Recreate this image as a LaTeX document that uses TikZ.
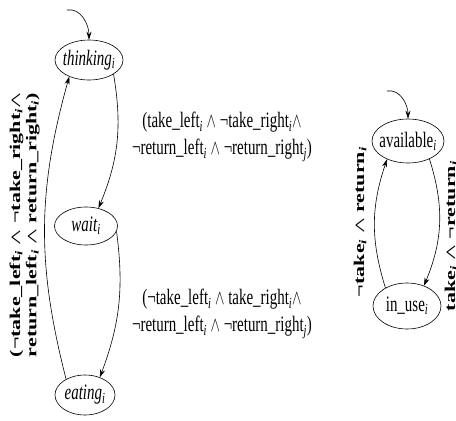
\documentclass[tikz,border=0pt]{standalone}
\usepackage{graphicx}
\usepackage{fontspec}
\setmainfont{Liberation Serif}
\usetikzlibrary{arrows.meta,shapes.geometric}
\newcommand\sbx[1]{\textsubscript{\itshape #1}}
\newcommand\hsq[1]{\scalebox{0.68}[1]{#1}}
\newcommand\vsq[1]{\scalebox{1}[0.68]{#1}}
\begin{document}
\begin{tikzpicture}[x=1pt,y=-1pt,
  state/.style={draw, ellipse, line width=0.6pt, inner sep=0pt},
  stname/.style={font=\fontsize{22}{24}\selectfont, inner sep=0pt},
  edge/.style={-{Stealth[length=8pt,width=5pt]}, line width=0.6pt},
  lbl/.style={font=\fontsize{22}{27}\selectfont, inner sep=0pt},
  rlbl/.style={font=\fontsize{22}{24}\selectfont, inner sep=0pt, rotate=90}]
\useasboundingbox (0,0) rectangle (456,421);

% states
\node[state, minimum width=68pt, minimum height=40pt,
  label={[stname]center:\hsq{\itshape thinking\sbx{i}}}] (th) at (89,60) {};
\node[state, minimum width=63pt, minimum height=38pt,
  label={[stname]center:\hsq{\itshape wait\sbx{i}}}] (wa) at (86,226) {};
\node[state, minimum width=60pt, minimum height=40pt,
  label={[stname]center:\hsq{\itshape eating\sbx{i}}}] (ea) at (85,395) {};
\node[state, minimum width=72pt, minimum height=44pt,
  label={[stname]center:\hsq{available\sbx{i}}}] (av) at (408,141) {};
\node[state, minimum width=68pt, minimum height=46pt,
  label={[stname]center:\hsq{in\_use\sbx{i}}}] (iu) at (407,306) {};

% initial arrows
\coordinate (s1) at (67,10);
\coordinate (s2) at (387,91);
\draw[edge] (s1) to[out=10,in=90] (th.north);
\draw[edge] (s2) to[out=10,in=90] (av.north);

% transitions
\draw[edge] (th.-30) to[bend left=16] (wa.55);
\draw[edge] (wa.-10) to[bend left=14] (ea.50);
\draw[edge] (ea.140) to[bend left=15] (th.220);
\draw[edge] (av.-40) to[bend left=20] (iu.50);
\draw[edge] (iu.140) to[bend left=18] (av.221);

% labels
\node[lbl] (l1) at (222,136) {\hsq{\begin{tabular}{@{}c@{}}(take\_left\sbx{i} $\wedge$ ¬take\_right\sbx{i}$\wedge$\\
  ¬return\_left\sbx{i} $\wedge$ ¬return\_right\sbx{j})\end{tabular}}};
\node[lbl] (l2) at (222,313) {\hsq{\begin{tabular}{@{}c@{}}(¬take\_left\sbx{i} $\wedge$ take\_right\sbx{i}$\wedge$\\
  ¬return\_left\sbx{i} $\wedge$ ¬return\_right\sbx{j})\end{tabular}}};
\node[rlbl] (l3) at (25,225) {\vsq{\bfseries\boldmath\begin{tabular}{@{}c@{}}(¬take\_left\sbx{i} $\wedge$ ¬take\_right\sbx{i}$\wedge$\\
  return\_left\sbx{i} $\wedge$ return\_right\sbx{i})\end{tabular}}};
\node[rlbl] (l4) at (360,222) {\vsq{\bfseries\boldmath ¬take\sbx{i} $\wedge$ return\sbx{i}}};
\node[rlbl] (l5) at (451,236) {\vsq{\bfseries\boldmath take\sbx{i} $\wedge$ ¬return\sbx{i}}};
\end{tikzpicture}
\end{document}
